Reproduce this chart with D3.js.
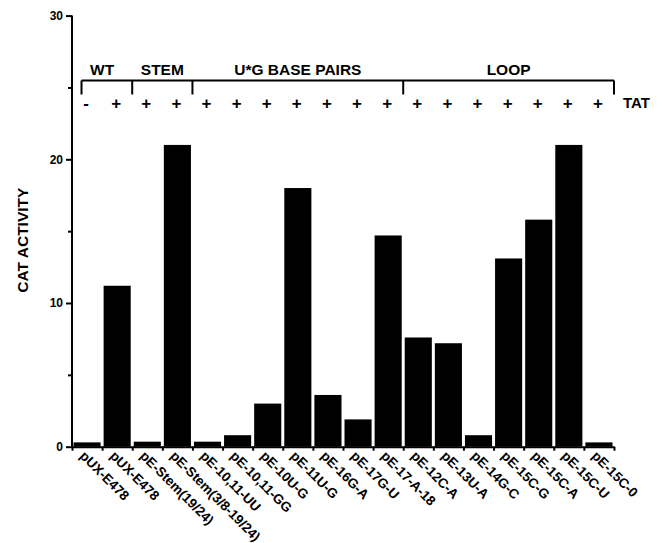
<!DOCTYPE html>
<html>
<head>
<meta charset="utf-8">
<script src="https://cdn.jsdelivr.net/npm/d3@7"></script>
<style>
  body { margin: 0; background: #fff; }
  text { font-family: "Liberation Sans", Arial, sans-serif; font-weight: bold; fill: #000; }
</style>
</head>
<body>
<svg id="chart" width="664" height="543"></svg>
<script>
// constructs along the x axis
const constructs = ["pUX-E478", "pUX-E478", "pE-Stem(19/24)", "pE-Stem(3/8-19/24)",
  "pE-10,11-UU", "pE-10,11-GG", "pE-10U-G", "pE-11U-G", "pE-16G-A", "pE-17G-U",
  "pE-17-A-18", "pE-12C-A", "pE-13U-A", "pE-14G-C", "pE-15C-G", "pE-15C-A",
  "pE-15C-U", "pE-15C-0"];
// CAT activity
const activity = [0.3, 11.2, 0.35, 21.0, 0.35, 0.8, 3.0, 18.0, 3.6, 1.9,
  14.7, 7.6, 7.2, 0.8, 13.1, 15.8, 21.0, 0.3];
// TAT present or not
const tat = ["-", "+", "+", "+", "+", "+", "+", "+", "+", "+",
  "+", "+", "+", "+", "+", "+", "+", "+"];
// groups across the top and how many bars each covers
const groupNames = ["WT", "STEM", "U*G BASE PAIRS", "LOOP"];
const groupSizes = [2, 2, 7, 7];
const majorTicks = [0, 10, 20, 30];
const minorTicks = [5, 15, 25];

const svg = d3.select("#chart");
const idx = d3.range(constructs.length);

const x = d3.scaleBand()
  .domain(idx)
  .range([72, 614])
  .paddingInner(0.1)
  .paddingOuter(0.05);

const y = d3.scaleLinear()
  .domain([0, 30])
  .range([446.7, 15.6]);

// bars
svg.append("g")
  .selectAll("rect")
  .data(idx)
  .join("rect")
  .attr("x", i => x(i))
  .attr("y", i => y(activity[i]))
  .attr("width", x.bandwidth())
  .attr("height", i => y(0) - y(activity[i]))
  .attr("fill", "#000");

// y axis, major then minor ticks
const yAxis = svg.append("g")
  .attr("transform", "translate(72,0)")
  .call(d3.axisLeft(y).tickValues(majorTicks).tickSize(6).tickPadding(3).tickFormat(d3.format("d")));
yAxis.append("g")
  .call(d3.axisLeft(y).tickValues(minorTicks).tickSize(4).tickFormat(""))
  .select(".domain").remove();
yAxis.selectAll("path, line").attr("stroke", "#000").attr("stroke-width", 2);
yAxis.select(".domain").attr("d", `M0,${y(30)}V${y(0)}`);
yAxis.selectAll("text").style("font-size", "12px").style("font-weight", "bold");

// x axis with ticks at the band edges
const edges = d3.scaleLinear().domain([0, constructs.length]).range(x.range());
const xAxis = svg.append("g")
  .attr("transform", `translate(0,${y(0)})`)
  .call(d3.axisBottom(edges).tickValues(d3.range(constructs.length + 1)).tickSize(4).tickSizeOuter(0).tickFormat(""));
xAxis.selectAll("path, line").attr("stroke", "#000").attr("stroke-width", 2);

// rotated construct names
svg.append("g")
  .selectAll("text")
  .data(idx)
  .join("text")
  .attr("transform", i => `translate(${x(i) + x.bandwidth() / 2 - 8},${y(0) + 10}) rotate(45)`)
  .style("font-size", "13.5px")
  .attr("text-anchor", "start")
  .text(i => constructs[i]);

// y title
svg.append("text")
  .attr("transform", `translate(28,${(y(0) + y(30)) / 2 + 9}) rotate(-90)`)
  .attr("text-anchor", "middle")
  .style("font-size", "15.5px")
  .text("CAT ACTIVITY");

// group bracket
const bracketY = 80.5;
const starts = groupSizes.map((s, k) => d3.sum(groupSizes.slice(0, k)));
const bounds = starts.concat([constructs.length]).map(k => edges(k));
bounds[0] = bounds[0] + 9.5;
const bracket = svg.append("g").attr("stroke", "#000").attr("stroke-width", 2);
bracket.append("line")
  .attr("x1", bounds[0]).attr("x2", bounds[bounds.length - 1])
  .attr("y1", bracketY).attr("y2", bracketY);
bracket.selectAll("line.tick")
  .data(bounds)
  .join("line")
  .attr("class", "tick")
  .attr("x1", d => d).attr("x2", d => d)
  .attr("y1", bracketY).attr("y2", bracketY + 14);

svg.append("g")
  .selectAll("text")
  .data(groupNames)
  .join("text")
  .attr("x", (d, k) => (edges(starts[k]) + edges(starts[k] + groupSizes[k])) / 2)
  .attr("y", 75)
  .attr("text-anchor", "middle")
  .style("font-size", "15.5px")
  .text(d => d);

// TAT row
svg.append("g")
  .selectAll("text")
  .data(idx)
  .join("text")
  .attr("x", i => x(i) + x.bandwidth() / 2 - 1)
  .attr("y", 109)
  .attr("text-anchor", "middle")
  .style("font-size", "17px")
  .text(i => tat[i]);

svg.append("text")
  .attr("x", 623)
  .attr("y", 108)
  .style("font-size", "15px")
  .text("TAT");
</script>
</body>
</html>
